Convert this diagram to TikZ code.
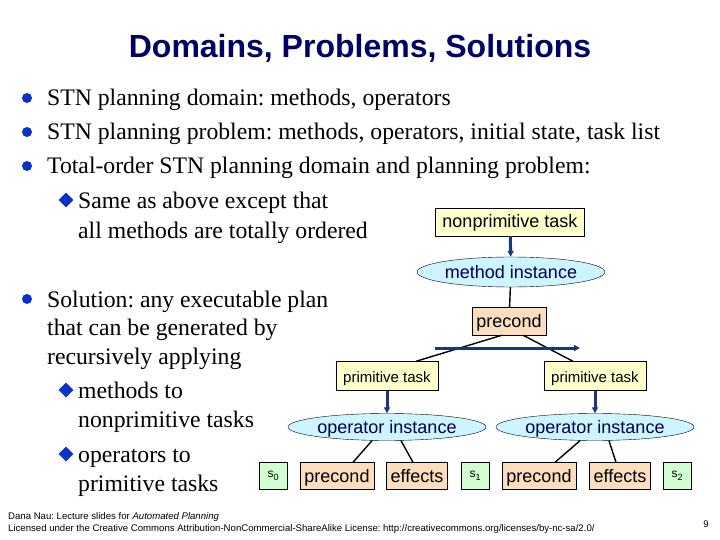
\documentclass[tikz,border=0pt]{standalone}
\usepackage{fontspec}
\setmainfont{Liberation Serif}
\setsansfont{Liberation Sans}
\usetikzlibrary{arrows.meta,calc,positioning,shapes.geometric}
\definecolor{titlenavy}{RGB}{0,0,102}
\definecolor{dotblue}{RGB}{10,50,200}
\definecolor{linkblue}{RGB}{25,55,120}
\definecolor{taskyellow}{RGB}{255,255,204}
\definecolor{methcyan}{RGB}{204,245,255}
\definecolor{condpeach}{RGB}{252,222,190}
\definecolor{stategreen}{RGB}{210,255,210}
\newcommand{\stsub}[1]{s{\fontsize{9}{9}\selectfont\raisebox{-3pt}{#1}}}

\tikzset{
  task/.style={draw, fill=taskyellow, inner sep=0pt, text height=13.5pt, text depth=1.5pt, font=\sffamily\fontsize{18}{20}\selectfont},
  meth/.style={ellipse, draw, fill=methcyan, inner sep=0pt, text height=13.5pt, text depth=1.5pt, text=titlenavy!80!black, font=\sffamily\fontsize{18}{20}\selectfont},
  cond/.style={draw, fill=condpeach, inner sep=0pt, text height=13.5pt, text depth=1.5pt, minimum height=28pt, font=\sffamily\fontsize{18}{20}\selectfont},
  statebox/.style={draw, fill=stategreen, inner sep=0pt, minimum width=28pt, minimum height=27pt, font=\sffamily\fontsize{12}{14}\selectfont},
  link/.style={-{Triangle[length=6pt,width=6pt]}, linkblue, line width=3pt},
  tie/.style={black, line width=1.4pt},
  body/.style={anchor=base west, inner sep=0pt, font=\fontsize{23.7}{28}\selectfont},
  dot/.style={circle, fill=dotblue, inner sep=0pt, minimum size=10pt},
  subdot/.style={diamond, fill=dotblue, inner sep=0pt, minimum size=15pt}
}

\begin{document}
\frenchspacing
\begin{tikzpicture}[x=1pt, y=-1pt]
\useasboundingbox (0,0) rectangle (720,540);

% ==================== TITLE ====================
\node[titlenavy, font=\sffamily\bfseries\fontsize{32}{36}\selectfont] (title) at (360,48) {Domains, Problems, Solutions};

% ==================== BULLETS ====================
\node[dot] at (27,98) {};
\node[body] (b1) at (47,106) {STN planning domain: methods, operators};
\node[dot] at (27,132) {};
\node[body] (b2) at (47,140) {STN planning problem: methods, operators, initial state, task list};
\node[dot] at (27,166) {};
\node[body] (b3) at (47,174) {Total-order STN planning domain and planning problem:};
\node[subdot] at (66,200) {};
\node[body] (b3a) at (78,208) {Same as above except that};
\node[body] (b3b) at (78,238) {all methods are totally ordered};

\node[dot] at (27,299) {};
\node[body] (b4) at (47,307) {Solution: any executable plan};
\node[body] (b4b) at (47,335) {that can be generated by};
\node[body] (b4c) at (47,364) {recursively applying};
\node[subdot] at (66,390) {};
\node[body] (b4d) at (78,398) {methods to};
\node[body] (b4e) at (78,427) {nonprimitive tasks};
\node[subdot] at (66,454) {};
\node[body] (b4f) at (78,462) {operators to};
\node[body] (b4g) at (78,491) {primitive tasks};

% ==================== TASK TREE ====================
\node[task, minimum width=149pt, minimum height=28pt] (npt) at (510,222) {nonprimitive task};
\node[meth, minimum width=188pt, minimum height=30pt] (mi) at (511,272) {method instance};
\node[cond, minimum width=74pt] (mpre) at (509,321) {precond};

\node[task, minimum width=102pt, minimum height=29pt, font=\sffamily\fontsize{15}{17}\selectfont] (ptL) at (387,376) {primitive task};
\node[task, minimum width=102pt, minimum height=29pt, font=\sffamily\fontsize{15}{17}\selectfont] (ptR) at (595,376) {primitive task};

\node[meth, minimum width=198pt, minimum height=27pt] (opL) at (387,427) {operator instance};
\node[meth, minimum width=198pt, minimum height=27pt] (opR) at (595,427) {operator instance};

% states and operator parts
\node[statebox] (s0) at (273,476) {\stsub{0}};
\node[cond, minimum width=74pt, minimum height=27pt] (preL) at (337,476) {precond};
\node[cond, minimum width=61pt, minimum height=27pt] (effL) at (417,476) {effects};
\node[statebox] (s1) at (475,476) {\stsub{1}};
\node[cond, minimum width=74pt, minimum height=27pt] (preR) at (539,476) {precond};
\node[cond, minimum width=61pt, minimum height=27pt] (effR) at (620,476) {effects};
\node[statebox] (s2) at (677,476) {\stsub{2}};

% connectors
\draw[link] (npt) -- (mi);
\draw[tie] (mi) -- (mpre);
\draw[tie] ($(mpre.south)+(-7,0)$) -- ($(ptL.north)+(29,0)$);
\draw[tie] ($(mpre.south)+(14,0)$) -- ($(ptR.north)+(-22,0)$);
\coordinate (ordL) at (435,348);
\coordinate (ordR) at (580,348);
\draw[link] (ordL) -- (ordR);

\draw[link] (ptL) -- (opL);
\draw[link] (ptR) -- (opR);
\draw[tie] ($(opL.south)+(-15,0)$) -- ($(preL.north)+(16,0)$);
\draw[tie] ($(opL.south)+(14,0)$) -- ($(effL.north)+(-4,0)$);
\draw[tie] ($(opR.south)+(-15,0)$) -- ($(preR.north)+(16,0)$);
\draw[tie] ($(opR.south)+(14,0)$) -- ($(effR.north)+(-4,0)$);

% ==================== FOOTER ====================
\node[anchor=base west, inner sep=0pt, font=\sffamily\fontsize{9.6}{11}\selectfont] (foot1) at (8,519) {Dana Nau: Lecture slides for \textit{Automated Planning}};
\node[anchor=base west, inner sep=0pt, font=\sffamily\fontsize{9.6}{11}\selectfont] (foot2) at (8,531) {Licensed under the Creative Commons Attribution-NonCommercial-ShareAlike License: http://creativecommons.org/licenses/by-nc-sa/2.0/};
\node[anchor=base, inner sep=0pt, font=\sffamily\fontsize{9.6}{11}\selectfont] (pageno) at (706,527) {9};

\end{tikzpicture}
\end{document}
